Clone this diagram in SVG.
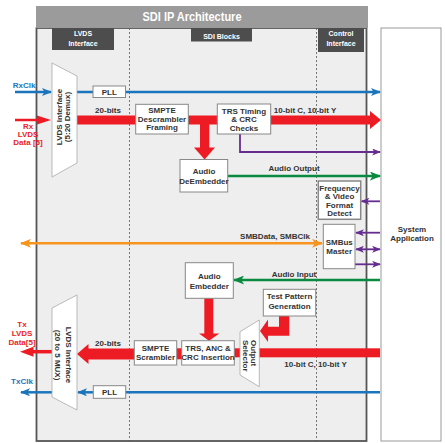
<svg xmlns="http://www.w3.org/2000/svg" width="445" height="443" viewBox="0 0 445 443">
<style>
text{font-family:"Liberation Sans Narrow","Liberation Sans",Arial,sans-serif;font-weight:bold;}
.n{font-size:8px;fill:#333;text-anchor:middle;}
.tab{font-size:7px;fill:#fff;text-anchor:middle;}
.box{fill:#fff;stroke:#888;stroke-width:1;}
.red{fill:#ed1c24;}
.lb{fill:#1b75bc;font-size:8px;text-anchor:middle;}
.lr{fill:#ed1c24;font-size:8px;text-anchor:middle;}
.blue{stroke:#1b75bc;stroke-width:2.5;fill:none;}
.grn{stroke:#0a8a3f;stroke-width:2.5;fill:none;}
.pur{stroke:#662d91;stroke-width:1.8;fill:none;}
.org{stroke:#f7941d;stroke-width:2.5;fill:none;}
</style>
<defs>
<marker id="mb" viewBox="0 0 10 8" refX="9" refY="4" markerWidth="11" markerHeight="8" orient="auto-start-reverse" markerUnits="userSpaceOnUse"><path d="M0,0 L10,4 L0,8 L2.5,4z" fill="#1b75bc"/></marker>
<marker id="mg" viewBox="0 0 10 8" refX="9" refY="4" markerWidth="12" markerHeight="9" orient="auto-start-reverse" markerUnits="userSpaceOnUse"><path d="M0,0 L10,4 L0,8 L2.5,4z" fill="#0a8a3f"/></marker>
<marker id="mp" viewBox="0 0 10 8" refX="9" refY="4" markerWidth="10" markerHeight="7" orient="auto-start-reverse" markerUnits="userSpaceOnUse"><path d="M0,0 L10,4 L0,8 L2.5,4z" fill="#662d91"/></marker>
<marker id="mo" viewBox="0 0 10 8" refX="9" refY="4" markerWidth="11" markerHeight="9" orient="auto-start-reverse" markerUnits="userSpaceOnUse"><path d="M0,0 L10,4 L0,8 L2.5,4z" fill="#f7941d"/></marker>
</defs>
<rect width="445" height="443" fill="#fff"/>
<g id="frame">
<rect x="36.5" y="28" width="330" height="413" fill="#eeeeee" stroke="#555" stroke-width="1.8"/>
<rect x="36" y="6" width="332" height="22" fill="#9b9b9b"/>
<text x="192" y="21" font-size="12.5" fill="#fff" text-anchor="middle" textLength="99" lengthAdjust="spacingAndGlyphs">SDI IP Architecture</text>
<line x1="129.5" y1="28" x2="129.5" y2="441" stroke="#555" stroke-width="0.8" stroke-dasharray="2,2"/>
<line x1="316.5" y1="28" x2="316.5" y2="441" stroke="#555" stroke-width="0.8" stroke-dasharray="2,2"/>
<rect x="52" y="28" width="62" height="22" fill="#4d4d4d"/>
<text class="tab" x="83" y="36">LVDS</text><text class="tab" x="83" y="46">Interface</text>
<rect x="191" y="28" width="61" height="13.5" fill="#4d4d4d"/>
<text class="tab" x="221.5" y="38.5">SDI Blocks</text>
<rect x="318" y="28" width="46" height="24" fill="#4d4d4d"/>
<text class="tab" x="341" y="36">Control</text><text class="tab" x="341" y="46">Interface</text>
</g>
<g id="sysapp"><rect x="381" y="28" width="60" height="413" fill="#fff" stroke="#999" stroke-width="1"/>
<text class="n" x="412" y="232">System</text><text class="n" x="412" y="241">Application</text></g>

<g id="connectors">
<line class="blue" x1="15" y1="92" x2="51" y2="92" marker-end="url(#mb)"/>
<line class="blue" x1="77" y1="92" x2="93" y2="92"/>
<line class="blue" x1="125.5" y1="92" x2="380" y2="92" marker-end="url(#mb)"/>
<line x1="15" y1="120" x2="38" y2="120" stroke="#ed1c24" stroke-width="2.5"/>
<polygon class="red" points="37,115.5 51,120 37,124.5"/>
<rect class="red" x="77" y="115.5" width="59" height="9"/>
<rect class="red" x="188" y="115.5" width="30" height="9"/>
<rect class="red" x="200" y="124" width="9.3" height="24"/>
<polygon class="red" points="194,147.5 215,147.5 204.6,159.5"/>
<rect class="red" x="270.5" y="115.5" width="100" height="9"/>
<polygon class="red" points="370,111 381,120 370,129"/>
<polyline class="pur" points="240,134 240,152 380,152" marker-end="url(#mp)"/>
<line class="grn" x1="228" y1="176" x2="380" y2="176" marker-end="url(#mg)"/>
<line class="pur" x1="380" y1="201.3" x2="361.5" y2="201.3" marker-end="url(#mp)"/>
<line class="pur" x1="380" y1="232.7" x2="356" y2="232.7" marker-end="url(#mp)"/>
<line class="pur" x1="356" y1="249.3" x2="380" y2="249.3" marker-start="url(#mp)" marker-end="url(#mp)"/>
<line class="pur" x1="355" y1="264.3" x2="380" y2="264.3" marker-end="url(#mp)"/>
<line class="org" x1="21" y1="243.3" x2="322" y2="243.3" marker-start="url(#mo)" marker-end="url(#mo)"/>
<line class="grn" x1="380" y1="280" x2="234" y2="280" marker-end="url(#mg)"/>
<rect class="red" x="204.3" y="298" width="9" height="36"/>
<polygon class="red" points="199,333.5 219.3,333.5 209,340.7"/>
<polygon class="red" points="279,316 289.3,316 289.3,335.7 268,335.7 268,342 260,331 268,319.5 268,326.7 279,326.7"/>
<rect class="red" x="259" y="348.3" width="121" height="9"/>
<rect class="red" x="234" y="348.3" width="6.5" height="9"/>
<rect class="red" x="176.5" y="348.3" width="5.5" height="11"/>
<rect class="red" x="88" y="348.5" width="46.5" height="11"/>
<polygon class="red" points="88.5,344 77,354 88.5,364"/>
<line x1="52" y1="351.7" x2="32" y2="351.7" stroke="#ed1c24" stroke-width="3.5"/>
<polygon class="red" points="33.5,346.7 20,351.7 33.5,356.7"/>
<line class="blue" x1="380" y1="392.3" x2="125.7" y2="392.3"/>
<line class="blue" x1="93.3" y1="392.3" x2="78" y2="392.3" marker-end="url(#mb)"/>
<line class="blue" x1="52" y1="392.3" x2="21" y2="392.3" marker-end="url(#mb)"/>
</g>

<g id="labels">
<text class="lb" x="24" y="87.5">RxClk</text>
<text class="lr" x="28" y="128.5">Rx</text><text class="lr" x="28" y="136.5">LVDS</text><text class="lr" x="28" y="145">Data [5]</text>
<text class="n" x="108" y="113">20-bits</text>
<text class="n" x="305" y="112.5">10-bit C, 10-bit Y</text>
<text class="n" x="294" y="171">Audio Output</text>
<text class="n" x="275" y="239">SMBData, SMBClk</text>
<text class="n" x="294" y="277">Audio Input</text>
<text class="n" x="108" y="346">20-bits</text>
<text class="n" x="315.5" y="366.5">10-bit C, 10-bit Y</text>
<text class="lr" x="22" y="326.5">Tx</text><text class="lr" x="22" y="336">LVDS</text><text class="lr" x="22" y="345">Data[5]</text>
<text class="lb" x="22" y="383.5">TxClk</text>
</g>

<g id="rx-lvds"><polygon points="52,63 77,76 77,163 52,177" fill="#fff" stroke="#aaa" stroke-width="0.8"/>
<g transform="translate(61.5,117) rotate(-90)"><text class="n" x="0" y="0">LVDS Interface</text><text class="n" x="0" y="8.5">(5:20 Demux)</text></g></g>
<g id="rx-pll"><rect class="box" x="93" y="86" width="32.5" height="11.5"/><text class="n" x="109.3" y="94.8">PLL</text></g>
<g id="descrambler"><rect class="box" x="135.7" y="104.3" width="52.6" height="29.7"/>
<text class="n" x="162" y="113">SMPTE</text><text class="n" x="162" y="121.5">Descrambler</text><text class="n" x="162" y="130">Framing</text></g>
<g id="trs-check"><rect class="box" x="217.3" y="104" width="53.4" height="30"/>
<text class="n" x="244" y="113.5">TRS Timing</text><text class="n" x="244" y="122">&amp; CRC</text><text class="n" x="244" y="130.5">Checks</text></g>
<g id="deembedder"><rect class="box" x="180" y="159.5" width="47.7" height="32.5"/>
<text class="n" x="204" y="173.5">Audio</text><text class="n" x="204" y="183.5">DeEmbedder</text></g>
<g id="freq-detect"><rect x="318.3" y="181" width="42.4" height="38.3" fill="#fff" stroke="#888" stroke-width="1.5"/>
<text class="n" x="339.5" y="190.5">Frequency</text><text class="n" x="339.5" y="199">&amp; Video</text><text class="n" x="339.5" y="207.5">Format</text><text class="n" x="339.5" y="215.5">Detect</text></g>
<g id="smbus"><rect class="box" x="323.3" y="224.3" width="31.7" height="44.4"/>
<text class="n" x="339.2" y="244.5">SMBus</text><text class="n" x="339.2" y="253.5">Master</text></g>
<g id="embedder"><rect class="box" x="185.3" y="262.7" width="48" height="35.6"/>
<text class="n" x="209.3" y="278.5">Audio</text><text class="n" x="209.3" y="288.5">Embedder</text></g>
<g id="test-pattern"><rect class="box" x="263.3" y="289.3" width="52.4" height="26.7"/>
<text class="n" x="289.5" y="299">Test Pattern</text><text class="n" x="289.5" y="308.5">Generation</text></g>
<g id="trs-insert"><rect class="box" x="181.7" y="340.7" width="52.6" height="24.3"/>
<text class="n" x="208" y="350.5">TRS, ANC &amp;</text><text class="n" x="208" y="359.5">CRC Insertion</text></g>
<g id="scrambler"><rect class="box" x="134.3" y="340.7" width="42.4" height="24.3"/>
<text class="n" x="155.5" y="350.5">SMPTE</text><text class="n" x="155.5" y="359.5">Scrambler</text></g>
<g id="output-selector"><polygon points="240,331.7 259.3,320 259.3,386.7 240,375" fill="#fff" stroke="#aaa" stroke-width="0.8"/>
<g transform="translate(251,340) rotate(90)"><text class="n" x="0" y="0" style="text-anchor:start">Output</text><text class="n" x="0" y="8" style="text-anchor:start">Selector</text></g></g>
<g id="tx-lvds"><polygon points="52,308 77,295 77,410 52,397" fill="#fff" stroke="#aaa" stroke-width="0.8"/>
<g transform="translate(65.5,355) rotate(90)"><text class="n" x="0" y="0">LVDS Interface</text><text class="n" x="0" y="10.5">(20 to 5 MUX)</text></g></g>
<g id="tx-pll"><rect class="box" x="93.3" y="385.7" width="32.4" height="12.6"/><text class="n" x="109.5" y="395">PLL</text></g>
</svg>
